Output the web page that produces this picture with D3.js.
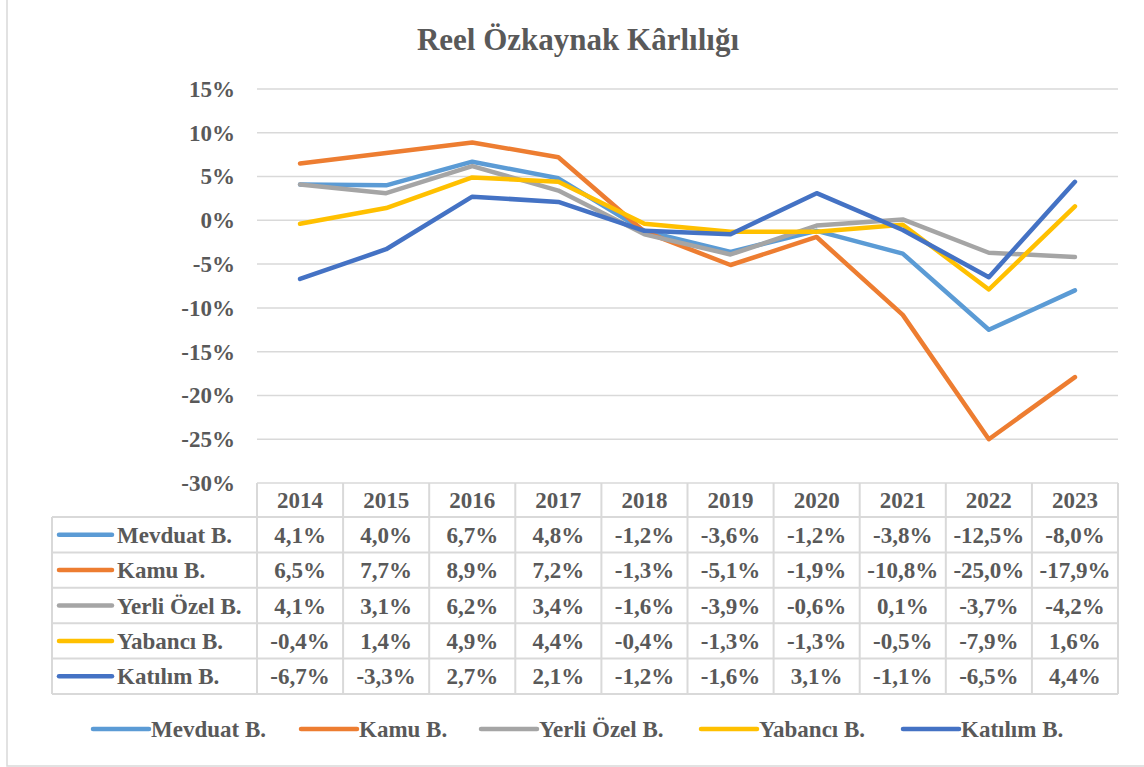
<!DOCTYPE html>
<html>
<head>
<meta charset="utf-8">
<script src="https://cdn.jsdelivr.net/npm/d3@7"></script>
</head>
<body style="margin:0; background:#fff">
<svg width="1144" height="767"></svg>
<script>
// Data
var years = ["2014", "2015", "2016", "2017", "2018", "2019", "2020", "2021", "2022", "2023"];
var seriesNames = ["Mevduat B.", "Kamu B.", "Yerli Özel B.", "Yabancı B.", "Katılım B."];
var mevduat = [4.1, 4.0, 6.7, 4.8, -1.2, -3.6, -1.2, -3.8, -12.5, -8.0];
var kamu = [6.5, 7.7, 8.9, 7.2, -1.3, -5.1, -1.9, -10.8, -25.0, -17.9];
var yerliOzel = [4.1, 3.1, 6.2, 3.4, -1.6, -3.9, -0.6, 0.1, -3.7, -4.2];
var yabanci = [-0.4, 1.4, 4.9, 4.4, -0.4, -1.3, -1.3, -0.5, -7.9, 1.6];
var katilim = [-6.7, -3.3, 2.7, 2.1, -1.2, -1.6, 3.1, -1.1, -6.5, 4.4];
var yTicks = [15, 10, 5, 0, -5, -10, -15, -20, -25, -30];
var colors = ["#5B9BD5", "#ED7D31", "#A5A5A5", "#FFC000", "#4472C4"];

var allSeries = [mevduat, kamu, yerliOzel, yabanci, katilim];

var FONT = "'Liberation Serif', 'Times New Roman', serif";
var TEXT_COLOR = "#595959";

var svg = d3.select("svg");
var plotLeft = 257, plotRight = 1118, plotTop = 89, plotBottom = 483;
var rowH = 35.4, headH = 34;
var labelLeft = 52;

var locale = d3.formatLocale({ decimal: ",", thousands: ".", grouping: [3], currency: ["", ""], minus: "-" });
var fmt = locale.format(".1f");

var x = d3.scaleBand().domain(years).range([plotLeft, plotRight]);
var y = d3.scaleLinear().domain([-30, 15]).range([plotBottom, plotTop]);

// all texts share the same look
function styleText(sel, size) {
    sel.style("font-family", FONT)
        .style("font-weight", "bold")
        .style("font-size", size + "px")
        .style("fill", TEXT_COLOR);
}

// outer frame
svg.append("rect")
    .attr("x", 7).attr("y", -5).attr("width", 1150).attr("height", 771)
    .attr("fill", "none").attr("stroke", "#D9D9D9").attr("stroke-width", 1.5);

// title
svg.append("text")
    .attr("x", 578).attr("y", 50)
    .attr("text-anchor", "middle")
    .call(styleText, 31)
    .text("Reel Özkaynak Kârlılığı");

// gridlines
svg.append("g")
    .selectAll("line")
    .data(yTicks)
    .enter()
    .append("line")
    .attr("x1", plotLeft).attr("x2", plotRight)
    .attr("y1", function (d) { return y(d); })
    .attr("y2", function (d) { return y(d); })
    .attr("stroke", "#D9D9D9").attr("stroke-width", 1.5);

// y axis
var yAxis = svg.append("g")
    .attr("transform", "translate(" + plotLeft + ",0)")
    .call(d3.axisLeft(y).tickValues(yTicks).tickSize(0).tickPadding(22)
        .tickFormat(function (d) { return locale.format("d")(d) + "%"; }));
yAxis.select(".domain").remove();
yAxis.selectAll("text").call(styleText, 23);

// lines
var line = d3.line()
    .x(function (d, i) { return x(years[i]) + x.bandwidth() / 2; })
    .y(function (d) { return y(d); });

svg.append("g")
    .selectAll("path")
    .data(allSeries)
    .enter()
    .append("path")
    .attr("d", line)
    .attr("fill", "none")
    .attr("stroke", function (d, i) { return colors[i]; })
    .attr("stroke-width", 4.5)
    .attr("stroke-linecap", "round")
    .attr("stroke-linejoin", "round");

// data table
var table = svg.append("g");
var gridColor = "#D9D9D9";
var tableBottom = plotBottom + headH + rowH * seriesNames.length;

// header years
table.selectAll(".yr")
    .data(years)
    .enter()
    .append("text")
    .attr("class", "yr")
    .attr("x", function (d) { return x(d) + x.bandwidth() / 2; })
    .attr("y", plotBottom + headH / 2)
    .attr("dy", "0.35em")
    .attr("text-anchor", "middle")
    .call(styleText, 23)
    .text(function (d) { return d; });

// horizontal table lines
var hLines = [plotBottom + headH];
seriesNames.forEach(function (s, i) { hLines.push(plotBottom + headH + rowH * (i + 1)); });
table.selectAll(".hl")
    .data(hLines)
    .enter()
    .append("line")
    .attr("x1", labelLeft).attr("x2", plotRight)
    .attr("y1", function (d) { return d; }).attr("y2", function (d) { return d; })
    .attr("stroke", gridColor).attr("stroke-width", 2);

// vertical table lines
var vLines = years.map(function (d) { return x(d); }).concat([plotRight]);
table.selectAll(".vl")
    .data(vLines)
    .enter()
    .append("line")
    .attr("x1", function (d) { return d; }).attr("x2", function (d) { return d; })
    .attr("y1", plotBottom).attr("y2", tableBottom)
    .attr("stroke", gridColor).attr("stroke-width", 2);
table.append("line")
    .attr("x1", labelLeft).attr("x2", labelLeft)
    .attr("y1", plotBottom + headH).attr("y2", tableBottom)
    .attr("stroke", gridColor).attr("stroke-width", 2);

// rows
var rows = table.selectAll(".row")
    .data(allSeries)
    .enter()
    .append("g")
    .attr("transform", function (d, i) { return "translate(0," + (plotBottom + headH + rowH * i + rowH / 2) + ")"; });

rows.append("line")
    .attr("x1", 59).attr("x2", 112)
    .attr("stroke", function (d, i) { return colors[i]; })
    .attr("stroke-width", 4.5)
    .attr("stroke-linecap", "round");

rows.append("text")
    .attr("x", 117)
    .attr("dy", "0.35em")
    .call(styleText, 23)
    .text(function (d, i) { return seriesNames[i]; });

rows.selectAll(".val")
    .data(function (d) { return d; })
    .enter()
    .append("text")
    .attr("x", function (d, i) { return x(years[i]) + x.bandwidth() / 2; })
    .attr("dy", "0.35em")
    .attr("text-anchor", "middle")
    .call(styleText, 23)
    .text(function (d) { return fmt(d) + "%"; });

// bottom legend
var legendX = [93, 301, 481, 701, 903];
var legend = svg.append("g")
    .selectAll("g")
    .data(seriesNames)
    .enter()
    .append("g")
    .attr("transform", function (d, i) { return "translate(" + legendX[i] + ",729)"; });

legend.append("line")
    .attr("x1", 0).attr("x2", 56)
    .attr("stroke", function (d, i) { return colors[i]; })
    .attr("stroke-width", 4.5)
    .attr("stroke-linecap", "round");

legend.append("text")
    .attr("x", 58)
    .attr("dy", "0.35em")
    .call(styleText, 23)
    .text(function (d) { return d; });
</script>
</body>
</html>
